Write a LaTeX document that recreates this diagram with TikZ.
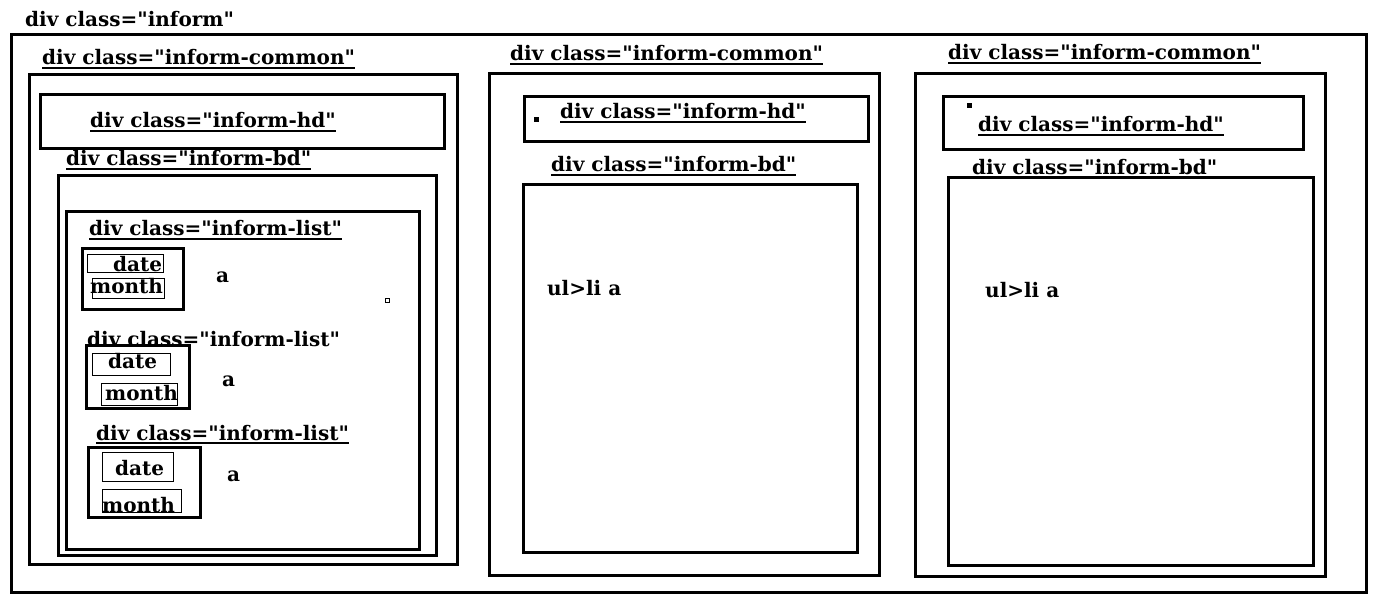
\documentclass[tikz,border=0pt]{standalone}
\usepackage{fontspec}
\setmainfont{DejaVu Serif}[Ligatures=TeXOff]

\begin{document}
\begin{tikzpicture}[x=1pt, y=-1pt,
    box/.style 2 args={draw, line width=3pt, anchor=north west, inner sep=0pt,
      minimum width=#1pt, minimum height=#2pt},
    thinbox/.style 2 args={box={#1}{#2}, line width=1pt},
    lbl/.style={anchor=base west, inner sep=0pt, font=\bfseries\fontsize{20}{24}\selectfont},
    uline/.style={line width=2pt}]
  \useasboundingbox (0,0) rectangle (1376,612);

  % outer div
  \node[lbl] (tinform) at (25,27) {div class="inform"};
  \node[box={1355}{558}] (inform) at (10,33) {};

  % first inform-common
  \node[lbl] (tcommon1) at (42,65) {div class="inform-common"};
  \node[box={428}{490}] (common1) at (28,73) {};
  \node[box={404}{54}] (hd1) at (39,93) {};
  \node[lbl] (thd1) at (90,128) {div class="inform-hd"};
  \node[lbl] (tbd1) at (66,166) {div class="inform-bd"};
  \node[box={378}{380}] (bd1) at (57,174) {};
  \node[box={353}{338}] (list1) at (65,210) {};
  \node[lbl] (tlist1) at (89,236) {div class="inform-list"};
  \node[lbl] (tlist2) at (87,346) {div class="inform-list"};
  \node[lbl] (tlist3) at (96,440) {div class="inform-list"};

  % date / month items
  \node[box={101}{61}] (item1) at (81,247) {};
  \node[thinbox={76}{18}] (date1) at (87,254) {};
  \node[thinbox={72}{20}] (month1) at (92,278) {};
  \node[lbl] (tdate1) at (113,272) {date};
  \node[lbl] (tmonth1) at (90,294) {month};
  \node[lbl] (ta1) at (216,283) {a};
  \node[draw, line width=1pt, minimum size=4pt, inner sep=0pt] (dot1) at (387,301) {};

  \node[box={103}{63}] (item2) at (85,344) {};
  \node[thinbox={78}{22}] (date2) at (92,353) {};
  \node[thinbox={76}{22}] (month2) at (101,383) {};
  \node[lbl] (tdate2) at (108,368) {date};
  \node[lbl] (tmonth2) at (105,400) {month};
  \node[lbl] (ta2) at (222,386) {a};

  \node[box={112}{70}] (item3) at (87,446) {};
  \node[thinbox={71}{29}] (date3) at (102,452) {};
  \node[thinbox={79}{23}] (month3) at (102,489) {};
  \node[lbl] (tdate3) at (115,475) {date};
  \node[lbl] (tmonth3) at (102,512) {month};
  \node[lbl] (ta3) at (227,481) {a};

  % second inform-common
  \node[lbl] (tcommon2) at (510,61) {div class="inform-common"};
  \node[box={390}{502}] (common2) at (488,72) {};
  \node[box={344}{45}] (hd2) at (523,95) {};
  \node[fill, minimum size=5pt, inner sep=0pt] (dot2) at (536,120) {};
  \node[lbl] (thd2) at (560,119) {div class="inform-hd"};
  \node[lbl] (tbd2) at (551,172) {div class="inform-bd"};
  \node[box={334}{368}] (bd2) at (522,183) {};
  \node[lbl] (tul2) at (547,296) {ul>li a};

  % third inform-common
  \node[lbl] (tcommon3) at (948,60) {div class="inform-common"};
  \node[box={410}{503}] (common3) at (914,72) {};
  \node[box={360}{53}] (hd3) at (942,95) {};
  \node[fill, minimum size=5pt, inner sep=0pt] (dot3) at (969,106) {};
  \node[lbl] (thd3) at (978,132) {div class="inform-hd"};
  \node[lbl] (tbd3) at (972,175) {div class="inform-bd"};
  \node[box={365}{388}] (bd3) at (947,176) {};
  \node[lbl] (tul3) at (985,298) {ul>li a};

  % underlines
  \foreach \n in {tcommon1,thd1,tbd1,tlist1,tlist3,tcommon2,thd2,tbd2,tcommon3,thd3,tbd3}
    \draw[uline] ([yshift=-3pt]\n.base west) -- ([yshift=-3pt]\n.base east);
\end{tikzpicture}
\end{document}
